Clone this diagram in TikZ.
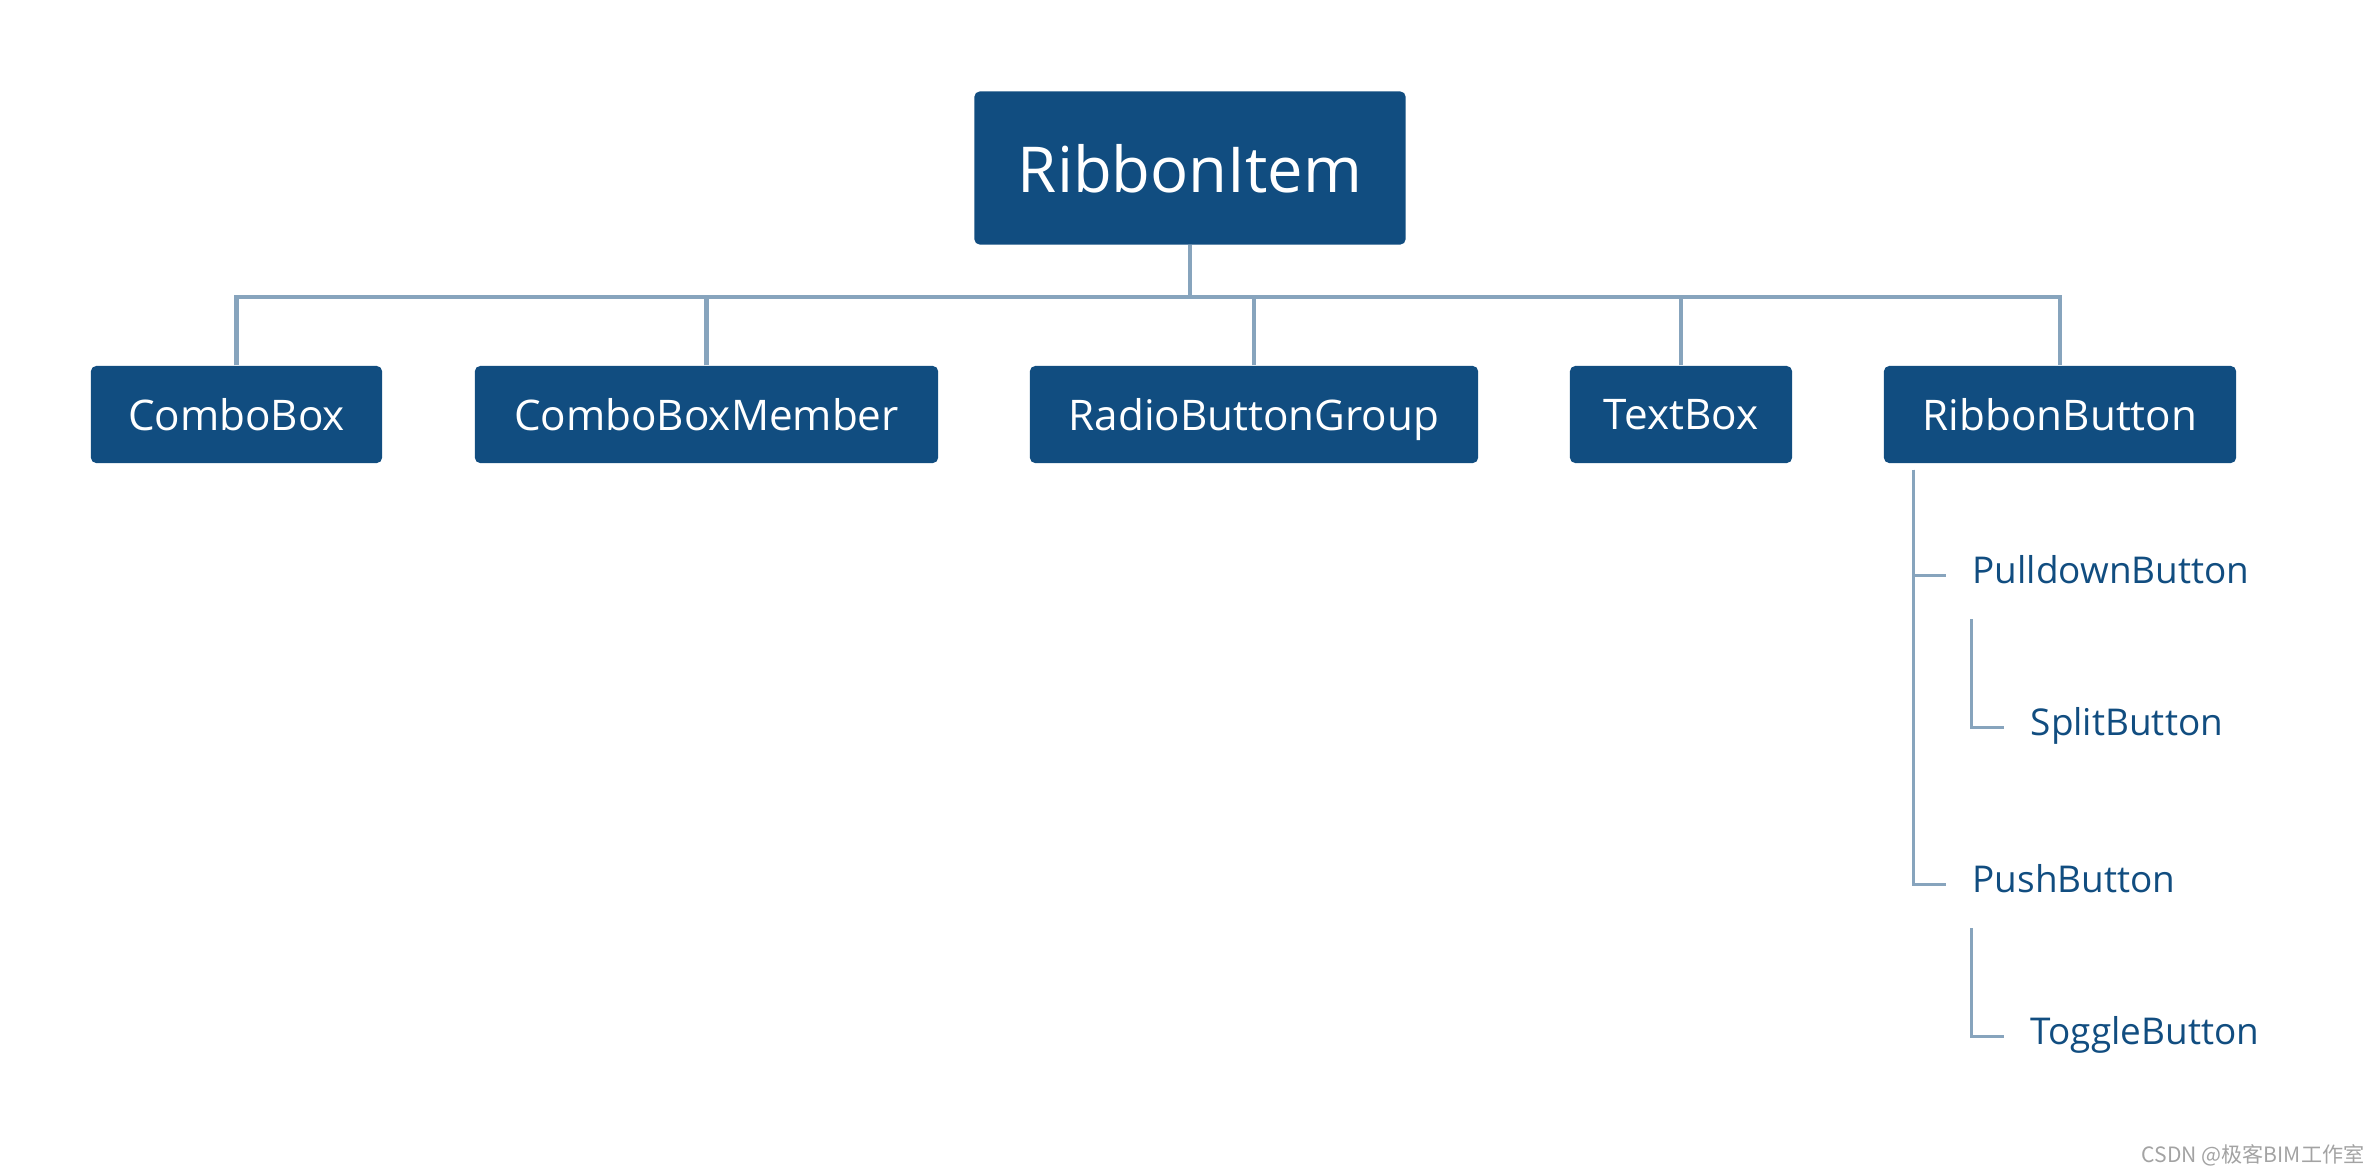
\documentclass[tikz,border=0pt]{standalone}
\usepackage{fontspec}
\setmainfont{Open Sans}
\newfontfamily\cjkfont{Noto Sans CJK SC}
\usetikzlibrary{calc}
\definecolor{boxblue}{HTML}{114D80}
\definecolor{linkblue}{HTML}{87A4BD}
\definecolor{markgray}{HTML}{A3A3A3}
\tikzset{
  item/.style={fill=boxblue, text=white, rounded corners=1.5pt, inner sep=0pt, text depth=0pt, minimum height=0.97cm, font=\fontsize{12}{14}\selectfont},
  rootbox/.style={item, minimum width=4.31cm, minimum height=1.53cm, font=\fontsize{18}{22}\selectfont},
  conn/.style={draw=linkblue, line width=1.4pt, line join=miter},
  sub/.style={draw=linkblue, line width=0.85pt, line join=miter},
  leaf/.style={anchor=west, text=boxblue, inner xsep=0.26cm, inner ysep=0pt, text height=0.17cm, text depth=0pt, font=\fontsize{10.5}{13}\selectfont},
  wmark/.style={text=markgray, inner sep=0pt, font=\cjkfont\fontsize{6}{7}\selectfont},
}
\begin{document}
\begin{tikzpicture}[x=0.01cm, y=-0.01cm]
  \useasboundingbox (0,0) rectangle (2379,1169);

  \node[rootbox] (ri) at (1190,168) {RibbonItem};
  \node[item, minimum width=2.91cm] (cb) at (236.5,414.5) {ComboBox};
  \node[item, minimum width=4.63cm] (cbm) at (706.5,414.5) {ComboBoxMember};
  \node[item, minimum width=4.48cm] (rbg) at (1254,414.5) {RadioButtonGroup};
  \node[item, minimum width=2.22cm] (tb) at (1681,414.5) {TextBox};
  \node[item, minimum width=3.52cm] (rb) at (2060,414.5) {RibbonButton};

  \coordinate (bus) at (0,297);
  \draw[conn] (cb.north) -- (cb.north |- bus) -- (rb.north |- bus) -- (rb.north);
  \draw[conn] (ri.south) -- (ri.south |- bus);
  \foreach \n in {cbm,rbg,tb}
    \draw[conn] (\n.north) -- (\n.north |- bus);

  % RibbonButton subtree
  \node[leaf] (pd) at (1946,575) {PulldownButton};
  \node[leaf] (sp) at (2004,727) {SplitButton};
  \node[leaf] (psh) at (1946,884) {PushButton};
  \node[leaf] (tg) at (2004,1036) {ToggleButton};
  \coordinate (trunk) at ($(rb.south west)+(30,6)$);
  \draw[sub] (trunk) |- (pd.west);
  \draw[sub] (trunk) |- (psh.west);
  \draw[sub] ($(pd.west)+(25,44)$) |- (sp.west);
  \draw[sub] ($(psh.west)+(25,44)$) |- (tg.west);

  \node[wmark, anchor=base east] (wm) at (2365,1162) {CSDN @极客BIM工作室};
\end{tikzpicture}
\end{document}
